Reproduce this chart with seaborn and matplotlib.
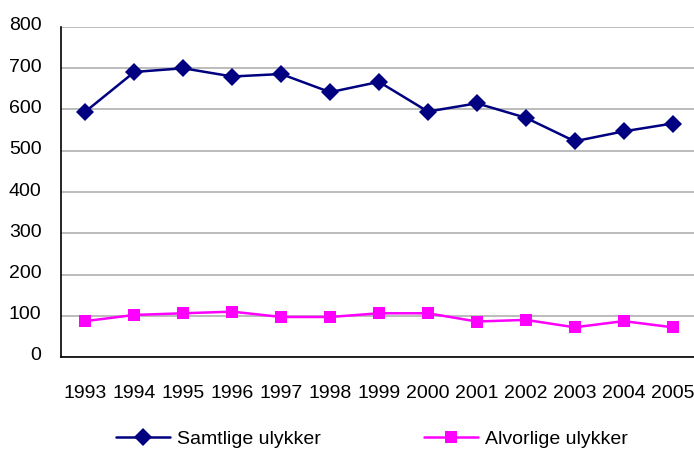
import matplotlib
matplotlib.use("Agg")
import matplotlib.pyplot as plt
import seaborn as sns
import pandas as pd
from matplotlib.ticker import FixedLocator, MultipleLocator
from matplotlib.transforms import ScaledTranslation

years = ["1993", "1994", "1995", "1996", "1997", "1998", "1999",
         "2000", "2001", "2002", "2003", "2004", "2005"]
samtlige = [595, 691, 700, 680, 686, 642, 667, 595, 615, 580, 523, 547, 566]
alvorlige = [87, 102, 106, 110, 97, 97, 106, 106, 86, 90, 72, 87, 72]
series_names = ["Samtlige ulykker", "Alvorlige ulykker"]

df = pd.DataFrame({
    "pos": list(range(len(years))) * 2,
    "value": samtlige + alvorlige,
    "serie": [series_names[0]] * len(years) + [series_names[1]] * len(years),
})

sns.set_style("white")
plt.rcParams["font.family"] = ["Liberation Sans", "DejaVu Sans"]
plt.rcParams["text.color"] = "black"
plt.rcParams["xtick.color"] = "black"
plt.rcParams["ytick.color"] = "black"

FS = 14
W, H = 694, 450
fig = plt.figure(figsize=(W / 100, H / 100), dpi=100)
ax = fig.add_axes([61 / W, (H - 357) / H, 636 / W, 330 / H])

sns.lineplot(
    data=df, x="pos", y="value", hue="serie", style="serie",
    palette={series_names[0]: "#000080", series_names[1]: "#FF00FF"},
    markers={series_names[0]: "D", series_names[1]: "s"},
    dashes=False, markersize=9, markeredgewidth=0, linewidth=1.8,
    ax=ax, legend=False,
)

ax.set_xlim(-0.5, len(years) - 0.5)
ax.set_ylim(0, 800)
ax.yaxis.set_major_locator(MultipleLocator(100))
ax.grid(axis="y", color="#b0b0b0", linewidth=1.2)
ax.set_axisbelow(True)

ax.set_xticks(range(len(years)))
ax.set_xticklabels(years)
ax.xaxis.set_minor_locator(FixedLocator([i - 0.5 for i in range(len(years) + 1)]))
ax.tick_params(axis="x", which="major", length=0, pad=20, labelsize=FS, labelcolor="black")
ax.tick_params(axis="x", which="minor", length=7, width=1, color="black", direction="out")
ax.tick_params(axis="y", which="major", length=6, width=1, color="black",
               direction="out", pad=8, labelsize=FS, labelcolor="black")
ax.set_xlabel("")
ax.set_ylabel("")

# nudge the value labels slightly above their gridlines
shift = ScaledTranslation(0, 3 / 100, fig.dpi_scale_trans)
for lbl in ax.get_yticklabels():
    lbl.set_transform(lbl.get_transform() + shift)

for side in ("top", "right"):
    ax.spines[side].set_visible(False)
for side in ("left", "bottom"):
    ax.spines[side].set_color("black")
    ax.spines[side].set_linewidth(1.2)

handles = [
    plt.Line2D([], [], color="#000080", marker="D", markersize=9, markeredgewidth=0, linewidth=1.8),
    plt.Line2D([], [], color="#FF00FF", marker="s", markersize=9, markeredgewidth=0, linewidth=1.8),
]
fig.legend(handles, series_names, loc="center", bbox_to_anchor=(372 / W, 1 - 439 / H),
           ncol=2, frameon=False, fontsize=FS, handlelength=2.8, handletextpad=0.36,
           columnspacing=5.3, borderaxespad=0, borderpad=0)

fig.savefig("out.png", dpi=100)
